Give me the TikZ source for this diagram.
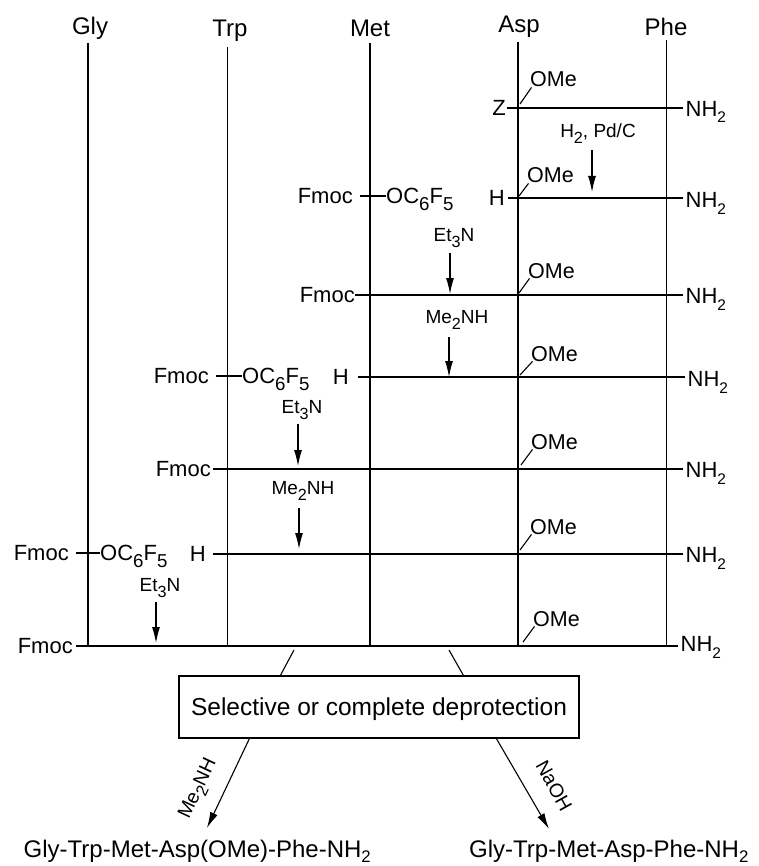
\documentclass[tikz,border=0pt]{standalone}
\usepackage{fontspec}
\setmainfont{Liberation Sans}
\usetikzlibrary{arrows.meta}
\newcommand\sbs[1]{\raisebox{-0.28em}{\scalebox{0.85}{#1}}}
\newcommand\sbn[1]{\raisebox{-0.3em}{\scalebox{0.7}{#1}}}
\newcommand\sbp[1]{\raisebox{-0.22em}{\scalebox{0.7}{#1}}}
\begin{document}
\begin{tikzpicture}[x=1pt,y=-1pt,
  lbl/.style={font=\fontsize{22}{26}\selectfont, inner sep=0pt, text height=15.75pt, text depth=0pt},
  res/.style={font=\fontsize{24}{28}\selectfont, inner sep=0pt, anchor=base},
  rg/.style={font=\fontsize{19}{22}\selectfont, inner sep=0pt, text height=13.6pt, text depth=0pt},
  ome/.style={font=\fontsize{21.5}{26}\selectfont, inner sep=0pt, anchor=base west},
  ln/.style={line width=1.1pt},
  rowln/.style={line width=1.1pt, shorten >=3pt},
  rarr/.style={line width=1.1pt, -{Latex[length=16pt,width=8pt]}},
  dg/.style={font=\fontsize{19.5}{22}\selectfont, inner sep=0pt}]
\useasboundingbox (0,0) rectangle (758,866);

% residue labels and columns
\node[res] (gly) at (90,35) {Gly};
\node[res] (trp) at (230,37) {Trp};
\node[res] (met) at (370,37) {Met};
\node[res] (asp) at (519,33) {Asp};
\node[res] (phe) at (666,36) {Phe};
\coordinate (glyT) at (88,43);   \coordinate (glyB) at (88,646);
\coordinate (trpT) at (227.5,47); \coordinate (trpB) at (227.5,646);
\coordinate (metT) at (370,43);  \coordinate (metB) at (370,646);
\coordinate (aspT) at (518,42);  \coordinate (aspB) at (518,646);
\coordinate (pheT) at (666.7,40); \coordinate (pheB) at (666.7,647);
\draw[ln] (glyT) -- (glyB);
\draw[ln] (trpT) -- (trpB);
\draw[ln] (metT) -- (metB);
\draw[ln] (aspT) -- (aspB);
\draw[ln] (pheT) -- (pheB);

% Row 1
\node[lbl, anchor=east] (z1) at (506,108) {Z};
\node[lbl, anchor=west] (n1) at (685.5,108.5) {NH\sbn{2}};
\draw[rowln, shorten <=1pt] (z1.east) -- (z1.east -| n1.west);
\node[ome] (o1) at (530,87) {OMe};
\coordinate (t1) at (520,104);
\draw[ln] (t1) -- ([xshift=1.5pt]o1.south west);

% Row 2
\node[lbl, anchor=east] (h2) at (505,198) {H};
\node[lbl, anchor=west] (n2) at (685.5,200) {NH\sbn{2}};
\draw[line width=2pt, shorten <=3pt, shorten >=3pt] (h2.east) -- (h2.east -| n2.west);
\node[ome] (o2) at (527,183) {OMe};
\coordinate (t2) at (519,196);
\draw[ln] (t2) -- ([xshift=1.5pt]o2.south west);
\node[lbl, anchor=east] (fm2) at (353,196) {Fmoc};
\node[lbl, anchor=west] (oc2) at (386,196) {OC\sbs{6}F\sbs{5}};
\draw[ln] ([xshift=7pt]fm2.east) -- (oc2.west);

% H2, Pd/C
\node[rg] (a1) at (598,131) {H\sbs{2}, Pd/C};
\coordinate (a1s) at (592,150); \coordinate (a1e) at (592,192);
\draw[rarr] (a1s) -- (a1e);

% Et3N (1)
\node[rg] (a2) at (454,235) {Et\sbs{3}N};
\coordinate (a2s) at (450,253); \coordinate (a2e) at (450,294);
\draw[rarr] (a2s) -- (a2e);

% Row 3
\node[lbl, anchor=east] (fm3) at (355,295) {Fmoc};
\node[lbl, anchor=west] (n3) at (685.5,296) {NH\sbn{2}};
\draw[rowln] (fm3.east) -- (fm3.east -| n3.west);
\node[ome] (o3) at (528,278) {OMe};
\coordinate (t3) at (519,293);
\draw[ln] (t3) -- ([xshift=1.5pt]o3.south west);

% Me2NH (1)
\node[rg] (a3) at (457,317) {Me\sbs{2}NH};
\coordinate (a3s) at (449,337); \coordinate (a3e) at (449,377);
\draw[rarr] (a3s) -- (a3e);

% Row 4
\node[lbl, anchor=east] (fm4) at (209,376) {Fmoc};
\node[lbl, anchor=west] (oc4) at (242,376) {OC\sbs{6}F\sbs{5}};
\draw[ln] ([xshift=7pt]fm4.east) -- (oc4.west);
\node[lbl, anchor=east] (h4) at (349,377) {H};
\node[lbl, anchor=west] (n4) at (687.5,379) {NH\sbn{2}};
\draw[rowln, shorten <=9pt] (h4.east) -- (h4.east -| n4.west);
\node[ome] (o4) at (531,361) {OMe};
\coordinate (t4) at (520,375);
\draw[ln] (t4) -- ([xshift=1.5pt]o4.south west);

% Et3N (2)
\node[rg] (a4) at (302,407) {Et\sbs{3}N};
\coordinate (a4s) at (298,424); \coordinate (a4e) at (298,466);
\draw[rarr] (a4s) -- (a4e);

% Row 5
\node[lbl, anchor=east] (fm5) at (211,469) {Fmoc};
\node[lbl, anchor=west] (n5) at (685.5,470) {NH\sbn{2}};
\draw[rowln, shorten <=2pt] (fm5.east) -- (fm5.east -| n5.west);
\node[ome] (o5) at (531,449) {OMe};
\coordinate (t5) at (521,465);
\draw[ln] (t5) -- ([xshift=1.5pt]o5.south west);

% Me2NH (2)
\node[rg] (a5) at (303,488) {Me\sbs{2}NH};
\coordinate (a5s) at (299,508); \coordinate (a5e) at (299,549);
\draw[rarr] (a5s) -- (a5e);

% Row 6
\node[lbl, anchor=east] (fm6) at (69,553) {Fmoc};
\node[lbl, anchor=west] (oc6) at (100,553) {OC\sbs{6}F\sbs{5}};
\draw[ln] ([xshift=7pt]fm6.east) -- (oc6.west);
\node[lbl, anchor=east] (h6) at (206,554) {H};
\node[lbl, anchor=west] (n6) at (685.5,555) {NH\sbn{2}};
\draw[rowln, shorten <=7pt] (h6.east) -- (h6.east -| n6.west);
\node[ome] (o6) at (530,534) {OMe};
\coordinate (t6) at (520,550);
\draw[ln] (t6) -- ([xshift=1.5pt]o6.south west);

% Et3N (3)
\node[rg] (a6) at (160,585) {Et\sbs{3}N};
\coordinate (a6s) at (156,602); \coordinate (a6e) at (156,643);
\draw[rarr] (a6s) -- (a6e);

% Row 7
\node[lbl, anchor=east] (fm7) at (73,646) {Fmoc};
\node[lbl, anchor=west] (n7) at (680.5,644) {NH\sbn{2}};
\draw[rowln, shorten <=3pt] (fm7.east) -- (fm7.east -| n7.west);
\node[ome] (o7) at (533,626) {OMe};
\coordinate (t7) at (523,642);
\draw[ln] (t7) -- ([xshift=1.5pt]o7.south west);

% deprotection box
\node[draw, line width=1.2pt, minimum width=400pt, minimum height=62pt, inner sep=0pt,
      text height=17.5pt, text depth=0pt, font=\fontsize{24.5}{28}\selectfont] (box) at (379,707)
      {Selective or complete deprotection};
\coordinate (c1) at (294,650);
\coordinate (c2) at (449,650);
\draw[ln] (c1) -- ([xshift=102pt]box.north west);
\draw[ln] (c2) -- ([xshift=285pt]box.north west);

% products
\node[anchor=base west, inner sep=0pt, font=\fontsize{24}{28}\selectfont] (p1) at (23.5,857)
  {Gly-Trp-Met-Asp(OMe)-Phe-NH\sbp{2}};
\node[anchor=base west, inner sep=0pt, font=\fontsize{24}{28}\selectfont] (p2) at (469,857)
  {Gly-Trp-Met-Asp-Phe-NH\sbp{2}};
\coordinate (tipL) at (207,828);
\coordinate (tipR) at (549,829);
\draw[rarr] ([xshift=71pt]box.south west) -- (tipL);
\draw[rarr] ([xshift=318pt]box.south west) -- (tipR);
\node[dg, rotate=65] (lm) at (199,789) {Me\sbs{2}NH};
\node[dg, rotate=-61] (ln) at (554,786) {NaOH};
\end{tikzpicture}
\end{document}
